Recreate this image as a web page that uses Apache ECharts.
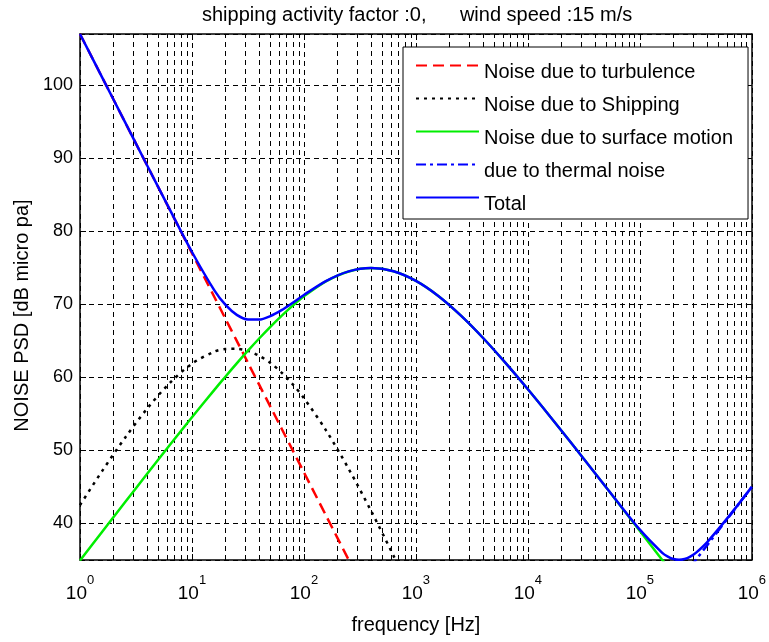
<!DOCTYPE html>
<html>
<head>
<meta charset="utf-8">
<script src="https://cdn.jsdelivr.net/npm/echarts@6/dist/echarts.min.js"></script>
<style>
  html, body { margin: 0; background: #fff; }
  #chart { width: 769px; height: 642px; }
</style>
</head>
<body>
<div id="chart"></div>
<script>
const FONT = "'Liberation Sans', Arial, Helvetica, sans-serif"

// frequency grid in Hz
const freqHz = [1, 1.585, 2.512, 3.981, 6.31, 10, 15.85, 19.95, 25.12, 31.62, 39.81, 50.12, 63.1, 79.43,
  100, 158.5, 251.2, 398.1, 631, 1000, 1585, 2512, 3981, 6310, 10000, 15849, 25119, 39811, 63096,
  100000, 158489, 177828, 199526, 223872, 251189, 281838, 316228, 398107, 630957, 1000000]

// noise levels, dB re micro pa
const turbulence = [107, 101, 95, 89, 83, 77, 71, 68, 65, 62, 59, 56, 53, 50,
  47, 41, 35, 29, null, null, null, null, null, null, null, null, null, null, null,
  null, null, null, null, null, null, null, null, null, null, null]
const shipping = [42.52, 47.23, 51.68, 55.73, 59.2, 61.88, 63.52, 63.89, 63.92, 63.62, 62.96, 61.98, 60.66, 59.05,
  57.16, 52.68, 47.46, 41.71, 35.59, 29.23, null, null, null, null, null, null, null, null, null,
  null, null, null, null, null, null, null, null, null, null, null]
const surface = [34.93, 38.9, 42.86, 46.8, 50.7, 54.54, 58.29, 60.12, 61.91, 63.65, 65.32, 66.92, 68.42, 69.82,
  71.09, 73.17, 74.5, 74.97, 74.52, 73.2, 71.14, 68.48, 65.39, 61.98, 58.37, 54.62, 50.78, 46.88, 42.94,
  38.98, 35.01, 34.01, 33.01, null, null, null, null, null, null, null]
const thermal = [null, null, null, null, null, null, null, null, null, null, null, null, null, null,
  null, null, null, null, null, null, null, null, null, null, null, null, null, null, null,
  null, null, null, null, null, null, 34, 35, 37, 41, 45]
const total = [107, 101, 95, 89, 83.02, 77.16, 71.91, 69.91, 68.56, 67.93, 67.91, 68.39, 69.2, 70.21,
  71.28, 73.21, 74.51, 74.97, 74.52, 73.2, 71.14, 68.48, 65.39, 61.98, 58.37, 54.62, 50.78, 46.88, 42.97,
  39.15, 35.98, 35.46, 35.13, 35.02, 35.13, 35.46, 35.98, 37.42, 41.07, 45.01]

const names = ['Noise due to turbulence', 'Noise due to Shipping', 'Noise due to surface motion',
  'due to thermal noise', 'Total']

// minor log grid: 2..9 times each decade
const minorGrid = []
for (let d = 1; d < 1e6; d *= 10) {
  for (let k = 2; k <= 9; k++) minorGrid.push(k * d)
}

const pts = arr => freqHz.map((f, i) => [f, arr[i]]).filter(p => p[1] !== null)

const gridLine = { color: '#000', type: [5, 4], width: 1 }
const frame = { show: true, lineStyle: { color: '#000', width: 1.5 } }

const line = (name, arr, color, type, extra) => Object.assign({
  name,
  type: 'line',
  data: pts(arr),
  symbol: 'none',
  smooth: 0.3,
  lineStyle: { color, type, width: 2.5 },
  itemStyle: { color },
}, extra || {})

const chart = echarts.init(document.getElementById('chart'))
chart.setOption({
  animation: false,
  textStyle: { fontFamily: FONT },
  title: {
    text: 'shipping activity factor :0,      wind speed :15 m/s',
    left: 197,
    top: 0,
    textStyle: { fontSize: 20, fontWeight: 'normal', color: '#000', fontFamily: FONT },
  },
  grid: { left: 80, right: 16, top: 34, bottom: 82 },
  legend: {
    orient: 'vertical',
    left: 403,
    top: 47,
    padding: [2, 15, 5, 12],
    itemGap: 0,
    itemWidth: 63,
    itemHeight: 14,
    borderColor: '#000',
    borderWidth: 1,
    backgroundColor: '#fff',
    selectedMode: false,
    data: names,
    itemStyle: { opacity: 0, color: 'rgba(0,0,0,0)', borderWidth: 0 },
    formatter: n => '{t|' + n + '}',
    textStyle: {
      fontSize: 20, color: '#000', fontFamily: FONT,
      rich: { t: { fontSize: 20, color: '#000', fontFamily: FONT, lineHeight: 19, padding: [13, 0, 0, 0] } },
    },
  },
  xAxis: [
    {
      type: 'log',
      logBase: 10,
      min: 1,
      max: 1e6,
      splitNumber: 6,
      position: 'bottom',
      axisLine: frame,
      axisTick: { inside: true, length: 6, lineStyle: { color: '#000' } },
      splitLine: { show: true, lineStyle: gridLine },
      axisLabel: {
        margin: 12,
        color: '#000',
        formatter: v => '{b|10}{s|' + Math.round(Math.log10(v)) + '}',
        rich: {
          b: { fontSize: 19, padding: [12, 0, 0, 0], color: '#000', fontFamily: FONT },
          s: { fontSize: 13, padding: [0, 0, 15, 0], color: '#000', fontFamily: FONT },
        },
      },
      name: 'frequency [Hz]',
      nameLocation: 'middle',
      nameGap: 55,
      nameTextStyle: { fontSize: 20, color: '#000', fontFamily: FONT },
    },
    {
      type: 'log',
      logBase: 10,
      min: 1,
      max: 1e6,
      splitNumber: 6,
      position: 'top',
      axisLine: frame,
      axisTick: { inside: true, length: 6, lineStyle: { color: '#000' } },
      axisLabel: { show: false },
      splitLine: { show: false },
    },
  ],
  yAxis: [
    {
      type: 'value',
      min: 35,
      max: 107,
      axisLine: frame,
      axisTick: { show: true, inside: true, length: 6, lineStyle: { color: '#000' } },
      splitLine: { show: true, lineStyle: gridLine },
      axisLabel: { fontSize: 18, margin: 7, color: '#000', showMinLabel: false, showMaxLabel: false, fontFamily: FONT },
      name: 'NOISE PSD [dB micro pa]',
      nameLocation: 'middle',
      nameRotate: 90,
      nameGap: 47,
      nameTextStyle: { fontSize: 20, color: '#000', fontFamily: FONT, padding: [0, 37, 0, 0] },
    },
    {
      type: 'value',
      min: 35,
      max: 107,
      position: 'right',
      axisLine: frame,
      axisTick: { show: true, inside: true, length: 6, lineStyle: { color: '#000' } },
      axisLabel: { show: false },
      splitLine: { show: false },
    },
  ],
  series: [
    line(names[0], turbulence, '#ff0000', [11, 6], {
      markLine: {
        silent: true,
        z: 1,
        symbol: 'none',
        label: { show: false },
        lineStyle: gridLine,
        data: minorGrid.map(v => ({ xAxis: v })),
      },
    }),
    line(names[1], shipping, '#000000', [3, 5]),
    line(names[2], surface, '#00ee00', 'solid'),
    line(names[3], thermal, '#0000ff', [10, 4, 3, 4]),
    line(names[4], total, '#0000ff', 'solid'),
  ],
})
</script>
</body>
</html>
